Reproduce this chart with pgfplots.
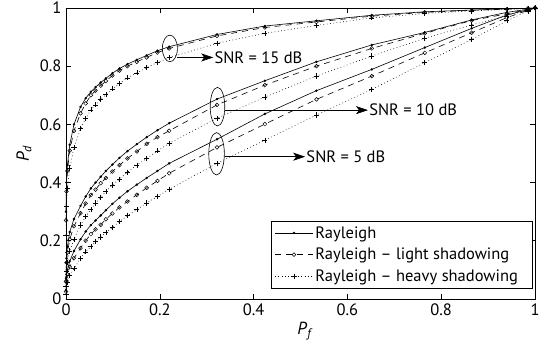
\documentclass[border=0pt]{standalone}
\usepackage{fontspec}
\setmainfont{PT Sans}
\usepackage{pgfplots}
\pgfplotsset{compat=1.18}
\usepackage{pgfplotstable}
\usetikzlibrary{arrows.meta}

% SNR = 15 dB
\pgfplotstableread{
x ray light heavy
0 0.30 0.27 0.22
0.001 0.40 0.37 0.32
0.003 0.46 0.44 0.38
0.008 0.53 0.51 0.45
0.017 0.60 0.578 0.52
0.031 0.66 0.638 0.585
0.042 0.69 0.672 0.62
0.053 0.712 0.70 0.65
0.063 0.728 0.716 0.667
0.074 0.744 0.733 0.687
0.085 0.758 0.749 0.702
0.099 0.776 0.768 0.722
0.114 0.792 0.785 0.741
0.131 0.807 0.80 0.76
0.151 0.822 0.815 0.777
0.172 0.837 0.83 0.795
0.195 0.853 0.847 0.813
0.22 0.867 0.861 0.829
0.322 0.909 0.904 0.879
0.424 0.938 0.933 0.913
0.534 0.956 0.952 0.94
0.652 0.975 0.972 0.966
0.765 0.987 0.985 0.981
0.865 0.993 0.992 0.99
0.94 0.997 0.996 0.995
0.985 0.999 0.999 0.999
1 1 1 1
}\snrfifteen

% SNR = 10 dB
\pgfplotstableread{
x ray light heavy
0 0.07 0.06 0.045
0.001 0.14 0.125 0.095
0.003 0.18 0.16 0.125
0.008 0.23 0.205 0.165
0.017 0.275 0.25 0.205
0.031 0.32 0.295 0.254
0.042 0.352 0.328 0.283
0.053 0.38 0.357 0.308
0.063 0.40 0.376 0.33
0.074 0.42 0.398 0.348
0.085 0.44 0.416 0.37
0.099 0.462 0.438 0.392
0.114 0.485 0.46 0.412
0.131 0.508 0.483 0.436
0.151 0.532 0.507 0.46
0.172 0.556 0.533 0.483
0.195 0.58 0.556 0.509
0.22 0.604 0.578 0.535
0.322 0.687 0.667 0.621
0.424 0.750 0.735 0.694
0.534 0.815 0.80 0.766
0.652 0.873 0.861 0.835
0.765 0.916 0.913 0.896
0.865 0.959 0.957 0.942
0.94 0.985 0.98 0.973
0.985 0.996 0.995 0.993
1 1 1 1
}\snrten

% SNR = 5 dB
\pgfplotstableread{
x ray light heavy
0 0.03 0.025 0.015
0.001 0.075 0.062 0.042
0.003 0.10 0.085 0.058
0.008 0.13 0.11 0.08
0.017 0.165 0.14 0.105
0.031 0.205 0.175 0.14
0.042 0.232 0.20 0.162
0.053 0.254 0.223 0.18
0.063 0.27 0.239 0.197
0.074 0.287 0.255 0.213
0.085 0.305 0.274 0.228
0.099 0.327 0.294 0.246
0.114 0.348 0.315 0.266
0.131 0.37 0.335 0.286
0.151 0.393 0.358 0.307
0.172 0.416 0.382 0.33
0.195 0.44 0.406 0.352
0.22 0.466 0.432 0.377
0.322 0.549 0.521 0.466
0.424 0.636 0.601 0.546
0.534 0.716 0.686 0.632
0.652 0.789 0.766 0.72
0.765 0.864 0.846 0.812
0.865 0.93 0.915 0.892
0.94 0.976 0.967 0.956
0.985 0.994 0.992 0.99
1 1 1 1
}\snrfive

\newcommand\lgd[1]{\makebox[212pt][l]{#1}}

\begin{document}
\begin{tikzpicture}
\useasboundingbox (-66pt,-48pt) rectangle (477pt,299pt);
\begin{axis}[
  at={(0,0)}, anchor=south west,
  scale only axis, width=469pt, height=291pt,
  xmin=0, xmax=1, ymin=0, ymax=1,
  xtick={0,0.2,0.4,0.6,0.8,1},
  ytick={0,0.2,0.4,0.6,0.8,1},
  tick align=inside, major tick length=5pt,
  tick style={line width=0.6pt, black},
  axis line style={line width=0.9pt},
  /pgf/number format/assume math mode=true,
  ticklabel style={font=\fontsize{16.5}{19}\selectfont},
  xticklabel style={yshift=-1pt},
  yticklabel style={xshift=-1pt},
  xlabel={\textit{P}\textsubscript{\textit{f}}},
  ylabel={\textit{P}\textsubscript{\textit{d}}},
  label style={font=\fontsize{17.5}{20}\selectfont},
  xlabel style={at={(axis description cs:0.51,-0.11)}, anchor=center},
  ylabel style={at={(axis description cs:-0.0896,0.5)}, anchor=center},
  clip=false,
  legend cell align=left,
  legend style={at={(0.995,0.037)}, anchor=south east, draw=black,
    line width=0.7pt, font=\fontsize{16.5}{19}\selectfont,
    inner xsep=3pt, inner ysep=3pt, row sep=4.5pt},
  legend image code/.code={\draw[mark repeat=2,mark phase=2,#1] plot coordinates {(0pt,0pt) (19pt,0pt) (38pt,0pt)};},
  ray/.style={black, solid, line width=0.6pt, mark=*, mark size=0.9pt},
  light/.style={black, line width=0.6pt, dash pattern=on 6pt off 5pt, mark=o, mark size=1.9pt, mark options={solid, line width=0.5pt}},
  heavy/.style={black, line width=0.6pt, dash pattern=on 0.7pt off 2.6pt, mark=+, mark size=2.6pt, mark options={solid, line width=0.6pt}},
]
\addplot[ray] table[x=x, y=ray] {\snrfifteen};
\addlegendentry{\lgd{Rayleigh}}
\addplot[light] table[x=x, y=light] {\snrfifteen};
\addlegendentry{\lgd{Rayleigh -- light shadowing}}
\addplot[heavy] table[x=x, y=heavy] {\snrfifteen};
\addlegendentry{\lgd{Rayleigh -- heavy shadowing}}

\addplot[ray, forget plot] table[x=x, y=ray] {\snrten};
\addplot[light, forget plot] table[x=x, y=light] {\snrten};
\addplot[heavy, forget plot] table[x=x, y=heavy] {\snrten};

\addplot[ray, forget plot] table[x=x, y=ray] {\snrfive};
\addplot[light, forget plot] table[x=x, y=light] {\snrfive};
\addplot[heavy, forget plot] table[x=x, y=heavy] {\snrfive};

% annotations
\draw[line width=0.6pt] (axis cs:0.2215,0.861) ellipse [x radius=7.5pt, y radius=13.3pt];
\draw[line width=0.6pt] (axis cs:0.323,0.661) ellipse [x radius=7.3pt, y radius=19.3pt];
\draw[line width=0.6pt] (axis cs:0.321,0.499) ellipse [x radius=7.8pt, y radius=21.2pt];

\draw[line width=0.6pt, -{Stealth[length=12pt, width=8pt, inset=3pt]}] (axis cs:0.2375,0.830) -- (axis cs:0.314,0.830)
  node[right, inner sep=1pt, font=\fontsize{16.5}{19}\selectfont] {SNR = 15 dB};
\draw[line width=0.6pt, -{Stealth[length=12pt, width=8pt, inset=3pt]}] (axis cs:0.339,0.649) -- (axis cs:0.644,0.649)
  node[right, inner sep=1pt, font=\fontsize{16.5}{19}\selectfont] {SNR = 10 dB};
\draw[line width=0.6pt, -{Stealth[length=12pt, width=8pt, inset=3pt]}] (axis cs:0.339,0.489) -- (axis cs:0.510,0.489)
  node[right, inner sep=1pt, font=\fontsize{16.5}{19}\selectfont] {SNR = 5 dB};
\end{axis}
\end{tikzpicture}
\end{document}
